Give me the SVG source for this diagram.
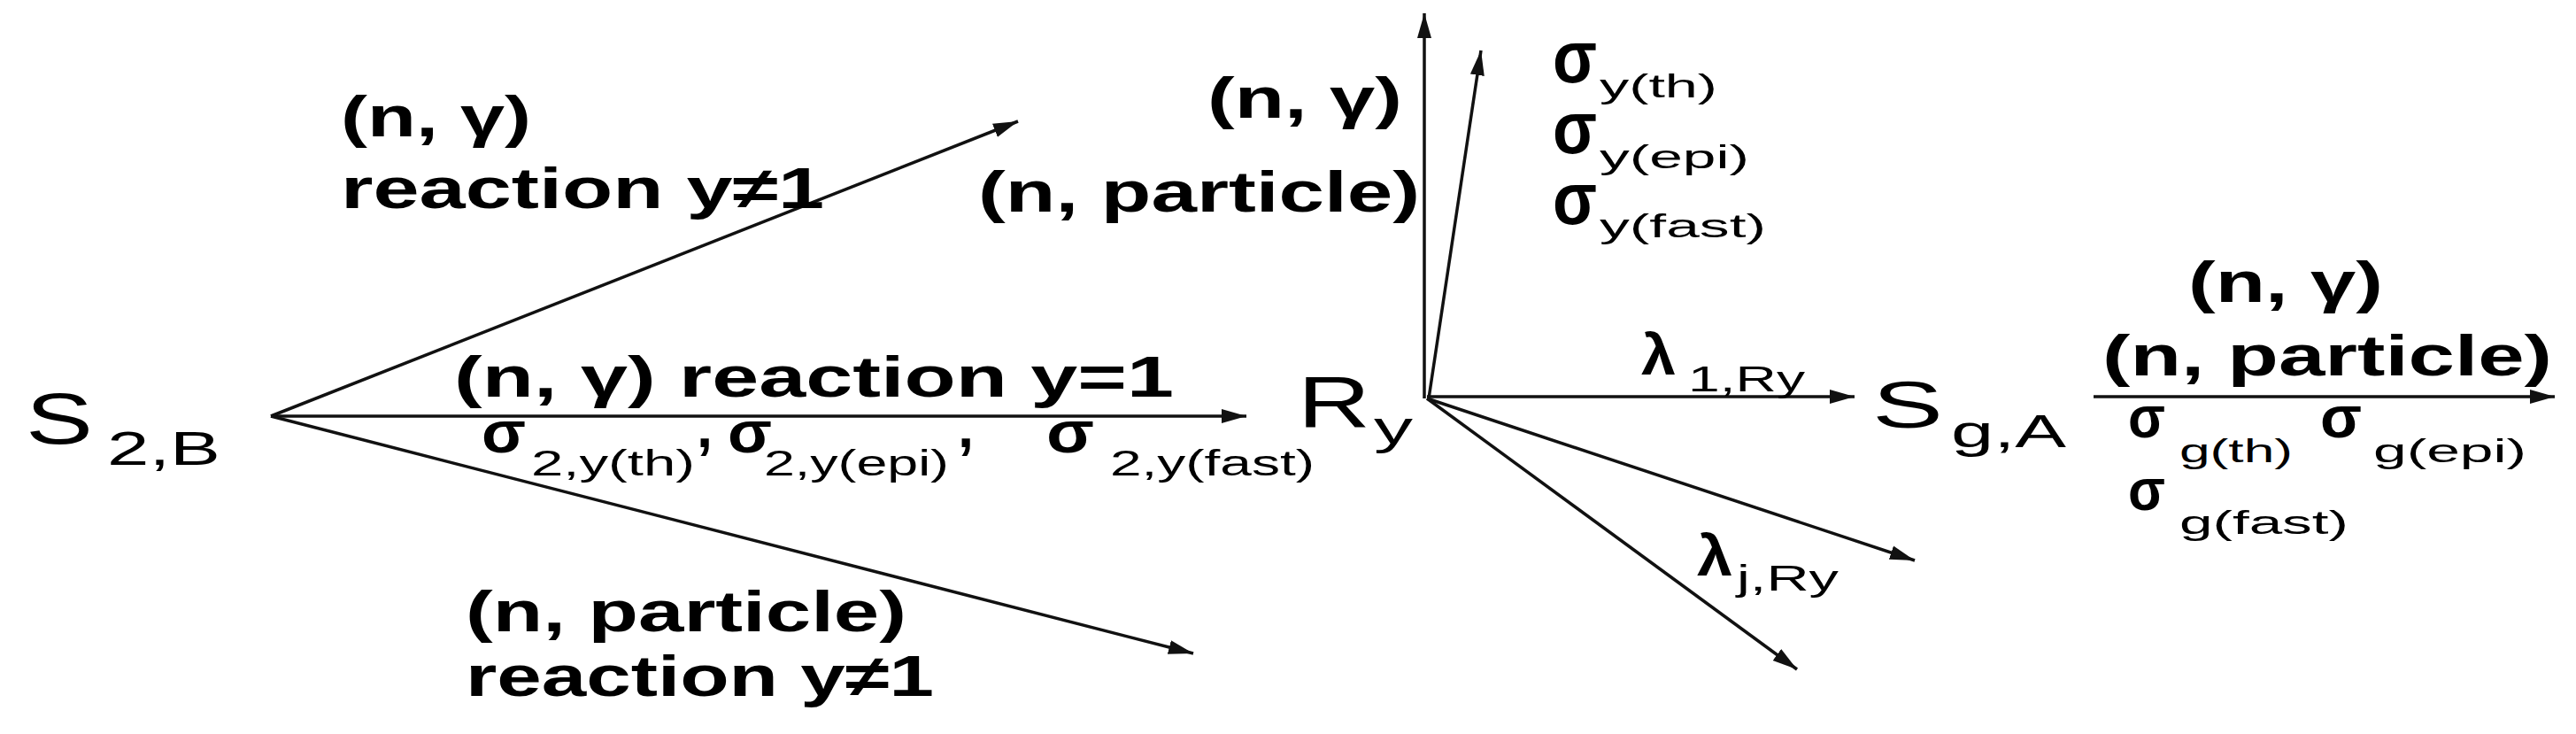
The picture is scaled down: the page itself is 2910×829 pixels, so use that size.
<svg xmlns="http://www.w3.org/2000/svg" width="2910" height="829" viewBox="0 0 2910 829">
<style>
text{font-family:"Liberation Sans",Arial,sans-serif;fill:#000}
.b{font-weight:bold;font-size:65px}
.big{font-size:82px}
.sub{font-size:54px}
.s40{font-size:40px}
.s36{font-size:36px}
.sig{font-weight:bold;font-size:84px}
.sigm{font-weight:bold;font-size:66px}
.lam{font-weight:bold;font-size:64px}
.arr{stroke:#111;stroke-width:3.5;fill:none;marker-end:url(#ah)}
</style>
<defs>
<marker id="ah" markerUnits="userSpaceOnUse" markerWidth="30" markerHeight="20" viewBox="0 0 30 20" refX="28" refY="10" orient="auto">
<path d="M0,2 L28,10 L0,18 Z" fill="#111"/>
</marker>
</defs>
<rect width="2910" height="829" fill="#fff"/>
<g id="connectors">
<line class="arr" x1="306" y1="470" x2="1150" y2="137"/>
<line class="arr" x1="306" y1="470" x2="1408" y2="470"/>
<line class="arr" x1="306" y1="470" x2="1348" y2="738"/>
<line class="arr" x1="1609" y1="450" x2="1609" y2="15"/>
<line class="arr" x1="1614" y1="450" x2="1673" y2="57"/>
<line class="arr" x1="1612" y1="448" x2="2095" y2="448"/>
<line class="arr" x1="1612" y1="450" x2="2163" y2="633"/>
<line class="arr" x1="1612" y1="450" x2="2030" y2="756"/>
<line class="arr" x1="2365" y1="448" x2="2886" y2="448"/>
</g>
<g id="S2B">
<text class="big" x="29" y="501" textLength="76" lengthAdjust="spacingAndGlyphs">S</text>
<text class="sub" x="121" y="525" textLength="128" lengthAdjust="spacingAndGlyphs">2,B</text>
</g>
<g id="label-upper-left">
<text class="b" x="385" y="154" textLength="215" lengthAdjust="spacingAndGlyphs">(n, γ)</text>
<text class="b" x="385" y="235" textLength="546" lengthAdjust="spacingAndGlyphs">reaction y≠1</text>
</g>
<g id="label-middle">
<text class="b" x="513" y="448" textLength="813" lengthAdjust="spacingAndGlyphs">(n, γ) reaction y=1</text>
<text class="sigm" x="544" y="511" textLength="50" lengthAdjust="spacingAndGlyphs">σ</text>
<text class="s40" x="600" y="537" textLength="185" lengthAdjust="spacingAndGlyphs">2,y(th)</text>
<text class="b" x="787" y="505">,</text>
<text class="sigm" x="822" y="511" textLength="50" lengthAdjust="spacingAndGlyphs">σ</text>
<text class="s40" x="863" y="537" textLength="209" lengthAdjust="spacingAndGlyphs">2,y(epi)</text>
<text class="b" x="1082" y="505">,</text>
<text class="sigm" x="1182" y="511" textLength="54" lengthAdjust="spacingAndGlyphs">σ</text>
<text class="s40" x="1254" y="537" textLength="231" lengthAdjust="spacingAndGlyphs">2,y(fast)</text>
</g>
<g id="label-lower-left">
<text class="b" x="526" y="713" textLength="498" lengthAdjust="spacingAndGlyphs">(n, particle)</text>
<text class="b" x="526" y="786" textLength="529" lengthAdjust="spacingAndGlyphs">reaction y≠1</text>
</g>
<g id="Ry">
<text class="big" x="1466" y="482" textLength="82" lengthAdjust="spacingAndGlyphs">R</text>
<text class="sub" x="1552" y="501" textLength="44" lengthAdjust="spacingAndGlyphs">y</text>
</g>
<g id="label-up">
<text class="b" x="1364" y="133" textLength="220" lengthAdjust="spacingAndGlyphs">(n, γ)</text>
<text class="b" x="1105" y="239" textLength="499" lengthAdjust="spacingAndGlyphs">(n, particle)</text>
<text class="sig" x="1754" y="93" textLength="50" lengthAdjust="spacingAndGlyphs">σ</text>
<text class="s36" x="1807" y="110" textLength="133" lengthAdjust="spacingAndGlyphs">y(th)</text>
<text class="sig" x="1754" y="173" textLength="50" lengthAdjust="spacingAndGlyphs">σ</text>
<text class="s36" x="1807" y="190" textLength="169" lengthAdjust="spacingAndGlyphs">y(epi)</text>
<text class="sig" x="1754" y="253" textLength="50" lengthAdjust="spacingAndGlyphs">σ</text>
<text class="s36" x="1807" y="268" textLength="188" lengthAdjust="spacingAndGlyphs">y(fast)</text>
</g>
<g id="lambda1">
<text class="lam" x="1854" y="423" textLength="39" lengthAdjust="spacingAndGlyphs">λ</text>
<text class="s40" x="1907" y="442" textLength="132" lengthAdjust="spacingAndGlyphs">1,Ry</text>
</g>
<g id="lambdaj">
<text class="lam" x="1917" y="650" textLength="40" lengthAdjust="spacingAndGlyphs">λ</text>
<text class="s40" x="1962" y="667" textLength="115" lengthAdjust="spacingAndGlyphs">j,Ry</text>
</g>
<g id="SgA">
<text class="big" x="2115" y="483" style="font-size:74px" textLength="80" lengthAdjust="spacingAndGlyphs">S</text>
<text class="sub" x="2204" y="505" style="font-size:52px" textLength="130" lengthAdjust="spacingAndGlyphs">g,A</text>
</g>
<g id="label-right">
<text class="b" x="2472" y="341" textLength="220" lengthAdjust="spacingAndGlyphs">(n, γ)</text>
<text class="b" x="2375" y="424" textLength="508" lengthAdjust="spacingAndGlyphs">(n, particle)</text>
<text class="sigm" x="2404" y="494" textLength="42" lengthAdjust="spacingAndGlyphs">σ</text>
<text class="s36" x="2462" y="522" textLength="128" lengthAdjust="spacingAndGlyphs">g(th)</text>
<text class="sigm" x="2621" y="494" textLength="47" lengthAdjust="spacingAndGlyphs">σ</text>
<text class="s36" x="2681" y="522" textLength="173" lengthAdjust="spacingAndGlyphs">g(epi)</text>
<text class="sigm" x="2404" y="576" textLength="42" lengthAdjust="spacingAndGlyphs">σ</text>
<text class="s36" x="2462" y="603" textLength="191" lengthAdjust="spacingAndGlyphs">g(fast)</text>
</g>
</svg>
